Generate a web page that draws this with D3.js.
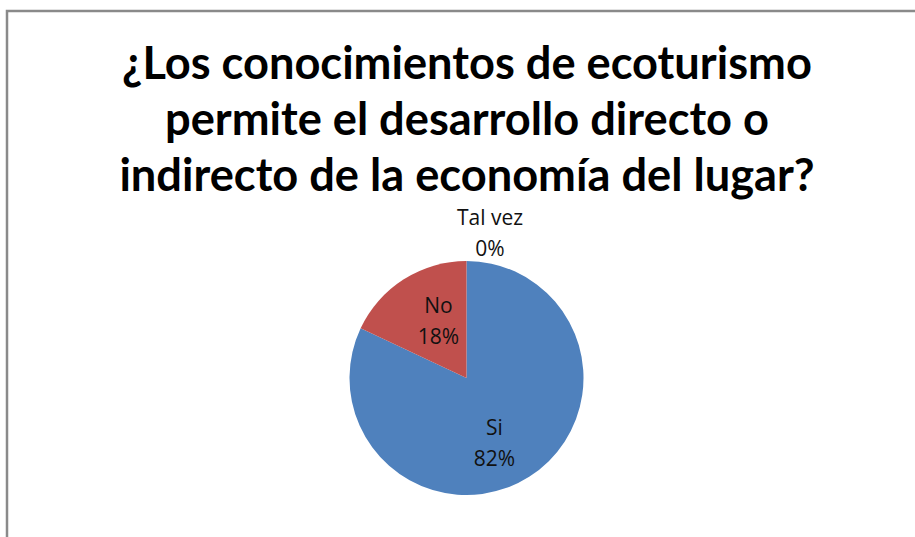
<!DOCTYPE html>
<html>
<head>
<meta charset="utf-8">
<script src="https://cdn.jsdelivr.net/npm/d3@7"></script>
<style>
  body { margin: 0; background: #fff; }
  svg { display: block; }
</style>
</head>
<body>
<svg width="915" height="537"></svg>
<script>
// datos de la encuesta
let categories = ["Si", "No", "Tal vez"];
let values = [82, 18, 0];
let colors = ["#4F81BD", "#C0504D", "#9BBB59"];
let titleLines = [
  "¿Los conocimientos de ecoturismo",
  "permite el desarrollo directo o",
  "indirecto de la economía del lugar?"
];

let svg = d3.select("svg");
let width = +svg.attr("width");
let height = +svg.attr("height");

// borde del area del grafico
svg.append("rect")
  .attr("x", 7)
  .attr("y", 11)
  .attr("width", width + 20)
  .attr("height", height + 20)
  .attr("fill", "#fff")
  .attr("stroke", "#8a8a8a")
  .attr("stroke-width", 2.5);

// titulo
let title = svg.append("g");
title.selectAll("text")
  .data(titleLines)
  .enter()
  .append("text")
  .attr("x", 467)
  .attr("y", function(d, i) { return 79 + i * 56; })
  .attr("text-anchor", "middle")
  .style("font-family", "Lato, 'Open Sans', sans-serif")
  .style("font-weight", "bold")
  .style("font-size", "40px")
  .style("fill", "#000")
  .text(function(d) { return d; });

// ajustar tamaño para que la primera linea mida ~690px
let firstLen = title.select("text").node().getComputedTextLength();
let fs = 40 * 690 / firstLen;
title.selectAll("text").style("font-size", fs + "px");

// pastel
let cx = 466.5, cy = 378, r = 117;
let pieData = categories.map(function(c, i) {
  return { name: c, value: values[i], color: colors[i] };
});

let pie = d3.pie()
  .sort(null)
  .value(function(d) { return d.value; });

let arc = d3.arc().innerRadius(0).outerRadius(r);
let labelArc = d3.arc().innerRadius(r * 0.62).outerRadius(r * 0.62);

let g = svg.append("g").attr("transform", "translate(" + cx + "," + cy + ")");

let arcs = pie(pieData);

g.selectAll("path")
  .data(arcs)
  .enter()
  .append("path")
  .attr("d", arc)
  .attr("fill", function(d) { return d.data.color; });

let total = d3.sum(values);

let labels = g.selectAll("g.lbl")
  .data(arcs)
  .enter()
  .append("g")
  .attr("class", "lbl")
  .attr("transform", function(d) {
    if (d.data.value === 0) {
      // etiqueta fuera del pastel, arriba
      return "translate(23.5,-149)";
    }
    let c = labelArc.centroid(d);
    return "translate(" + (c[0] * 0.72) + "," + c[1] + ")";
  });

labels.append("text")
  .attr("text-anchor", "middle")
  .attr("y", -4)
  .style("font-family", "'Open Sans', 'Noto Sans', sans-serif")
  .style("font-size", "21px")
  .style("fill", "#111")
  .text(function(d) { return d.data.name; });

labels.append("text")
  .attr("text-anchor", "middle")
  .attr("y", 27)
  .style("font-family", "'Open Sans', 'Noto Sans', sans-serif")
  .style("font-size", "21px")
  .style("fill", "#111")
  .text(function(d) { return Math.round(d.data.value / total * 100) + "%"; });
</script>
</body>
</html>
